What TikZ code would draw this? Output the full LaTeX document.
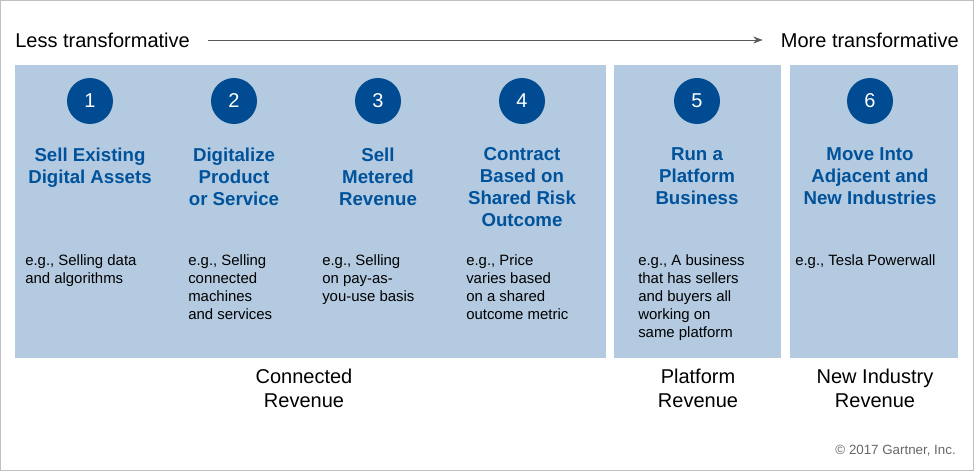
\documentclass[tikz,border=0pt]{standalone}
\usepackage{fontspec}
\setmainfont{Liberation Sans}
\usetikzlibrary{arrows.meta}
\definecolor{panel}{RGB}{180,202,225}
\definecolor{dblue}{RGB}{0,75,145}
\definecolor{hblue}{RGB}{0,82,155}
\tikzset{
 panel/.style={fill=panel,draw=none},
 num/.style={circle,fill=dblue,text=white,minimum size=46\px,inner sep=0pt,font=\fontsize{15}{18}\selectfont},
 head/.style={text=hblue,font=\fontsize{14}{16.5}\selectfont\bfseries,align=center,anchor=north},
 ex/.style={font=\fontsize{11.2}{13.5}\selectfont,align=left,anchor=north west,inner sep=0pt},
 lab/.style={font=\fontsize{15}{18}\selectfont,align=center,anchor=north,inner sep=0pt},
}
\newlength{\px}\setlength{\px}{0.75pt}
\begin{document}
\begin{tikzpicture}[x=0.75pt,y=-0.75pt]
\useasboundingbox (0,0) rectangle (974,471);
\draw[gray!50] (0.5,0.5) rectangle (973.5,470.5);
\node[anchor=west,inner sep=0pt,font=\fontsize{15}{18}\selectfont] (lt) at (15,40) {Less transformative};
\node[anchor=east,inner sep=0pt,font=\fontsize{15}{18}\selectfont] (mt) at (959,40) {More transformative};
\draw[-{Stealth[length=7pt]},gray!70!black] ([xshift=18\px]lt.east) -- ([xshift=-18\px]mt.west);
\fill[panel] (15,65) rectangle (606,358);
\fill[panel] (614,65) rectangle (781,358);
\fill[panel] (790,65) rectangle (958,358);
\foreach \n/\x in {1/90,2/234,3/378,4/522,5/697,6/870}{
 \node[num] (c\n) at (\x,101) {\n};
}
\node[head] (h1) at (90,143) {Sell Existing\\Digital Assets};
\node[head] (h2) at (234,143) {Digitalize\\Product\\or Service};
\node[head] (h3) at (378,143) {Sell\\Metered\\Revenue};
\node[head] (h4) at (522,143) {Contract\\Based on\\Shared Risk\\Outcome};
\node[head] (h5) at (697,143) {Run a\\Platform\\Business};
\node[head] (h6) at (870,143) {Move Into\\Adjacent and\\New Industries};
\node[ex] (e1) at (25,254) {e.g., Selling data\\and algorithms};
\node[ex] (e2) at (188,254) {e.g., Selling\\connected\\machines\\and services};
\node[ex] (e3) at (322,254) {e.g., Selling\\on pay-as-\\you-use basis};
\node[ex] (e4) at (466,254) {e.g., Price\\varies based\\on a shared\\outcome metric};
\node[ex] (e5) at (638,254) {e.g., A business\\that has sellers\\and buyers all\\working on\\same platform};
\node[ex] (e6) at (795,254) {e.g., Tesla Powerwall};
\node[lab] (l1) at (304,369) {Connected\\Revenue};
\node[lab] (l2) at (698,369) {Platform\\Revenue};
\node[lab] (l3) at (875,369) {New Industry\\Revenue};
\node[anchor=east,inner sep=0pt,text=gray!80!black,font=\fontsize{10}{12}\selectfont] (cp) at (956,451) {© 2017 Gartner, Inc.};
\end{tikzpicture}
\end{document}
